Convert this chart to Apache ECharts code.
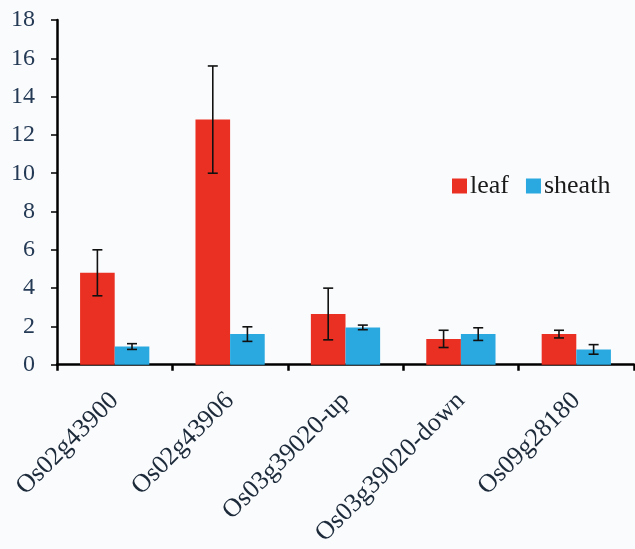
<!DOCTYPE html>
<html>
<head>
<meta charset="utf-8">
<script src="https://cdn.jsdelivr.net/npm/echarts@6/dist/echarts.min.js"></script>
<style>
html,body{margin:0;padding:0;background:#fafbfd;}
#chart{width:635px;height:549px;}
</style>
</head>
<body>
<div id="chart"></div>
<script>
const categories = ['Os02g43900', 'Os02g43906', 'Os03g39020-up', 'Os03g39020-down', 'Os09g28180'];
const leafValues = [4.8, 12.8, 2.65, 1.35, 1.6];
const leafErrors = [1.2, 2.8, 1.35, 0.45, 0.2];
const sheathValues = [0.95, 1.6, 1.95, 1.6, 0.8];
const sheathErrors = [0.15, 0.38, 0.12, 0.33, 0.25];
const yTicks = [0, 2, 4, 6, 8, 10, 12, 14, 16, 18];

const serif = '"Liberation Serif", "DejaVu Serif", serif';
const leafColor = '#e93022';
const sheathColor = '#2aa9e0';

function errorSeries(values, errors, side) {
  return {
    type: 'custom',
    silent: true,
    z: 10,
    data: values.map((v, i) => [i, v - errors[i], v + errors[i]]),
    renderItem: function (params, api) {
      const idx = api.value(0);
      const catW = api.size([1, 0])[0];
      const cx = api.coord([idx, 0])[0] + side * 0.15 * catW;
      const lo = api.coord([idx, api.value(1)])[1];
      const hi = api.coord([idx, api.value(2)])[1];
      const cap = 5;
      const style = { stroke: '#111', lineWidth: 1.6 };
      return {
        type: 'group',
        children: [
          { type: 'line', shape: { x1: cx, y1: lo, x2: cx, y2: hi }, style: style },
          { type: 'line', shape: { x1: cx - cap, y1: lo, x2: cx + cap, y2: lo }, style: style },
          { type: 'line', shape: { x1: cx - cap, y1: hi, x2: cx + cap, y2: hi }, style: style }
        ]
      };
    }
  };
}

const chart = echarts.init(document.getElementById('chart'));
chart.setOption({
  backgroundColor: '#fafbfd',
  animation: false,
  grid: { left: 57, right: 1, top: 20, bottom: 183, containLabel: false },
  legend: {
    left: 447, top: 168,
    itemWidth: 15, itemHeight: 15, itemGap: 17,
    icon: 'rect',
    textStyle: { fontFamily: serif, fontSize: 26, color: '#1a1a1a', padding: [0, 0, 0, -2] },
    data: ['leaf', 'sheath']
  },
  xAxis: {
    type: 'category',
    data: categories,
    axisLine: { lineStyle: { color: '#000', width: 2.5 } },
    axisTick: { show: true, length: 6, lineStyle: { color: '#000', width: 2.5 }, alignWithLabel: false },
    axisLabel: { rotate: 45, fontFamily: serif, fontSize: 26, color: '#1c2a3a', margin: 32, interval: 0 }
  },
  yAxis: {
    type: 'value',
    min: yTicks[0], max: yTicks[yTicks.length - 1], interval: 2,
    splitLine: { show: false },
    axisLine: { show: true, lineStyle: { color: '#000', width: 2.5 } },
    axisTick: { show: true, length: 6, lineStyle: { color: '#000', width: 1.5 } },
    axisLabel: { fontFamily: serif, fontSize: 24, color: '#243a55', margin: 22 }
  },
  series: [
    { name: 'leaf', type: 'bar', data: leafValues, barGap: '0%', barCategoryGap: '40%', itemStyle: { color: leafColor } },
    { name: 'sheath', type: 'bar', data: sheathValues, barGap: '0%', barCategoryGap: '40%', itemStyle: { color: sheathColor } },
    errorSeries(leafValues, leafErrors, -1),
    errorSeries(sheathValues, sheathErrors, 1)
  ]
});
</script>
</body>
</html>
